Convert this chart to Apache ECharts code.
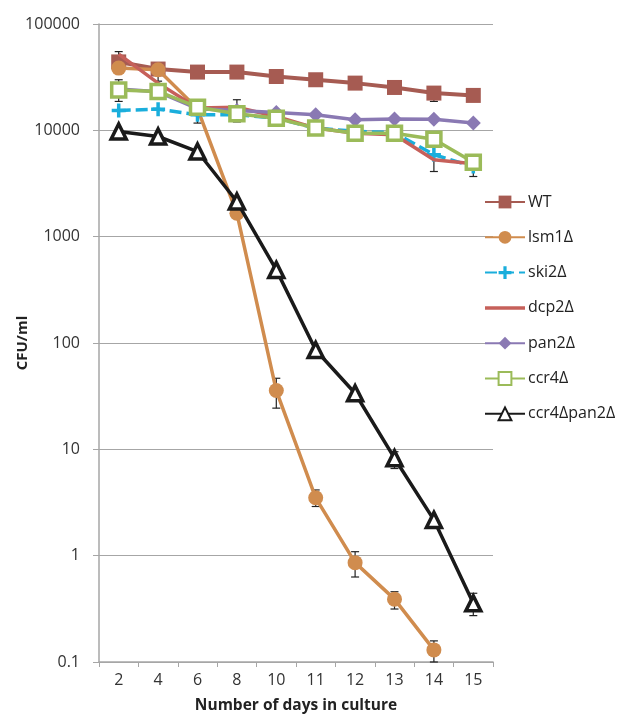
<!DOCTYPE html>
<html>
<head>
<meta charset="utf-8">
<script src="https://cdn.jsdelivr.net/npm/echarts@6/dist/echarts.min.js"></script>
<style>
html,body{margin:0;padding:0;background:#fff;}
#chart{width:619px;height:714px;}
</style>
</head>
<body>
<div id="chart"></div>
<script>
var days = ['2','4','6','8','10','11','12','13','14','15'];
var yTickLabels = ['0.1','1','10','100','1000','10000','100000'];

var WT       = [44000, 37700, 35300, 35300, 32100, 29900, 27800, 25300, 22400, 21300];
var lsm1     = [38500, 37100, 16000, 1660, 35.7, 3.5, 0.86, 0.39, 0.13, null];
var ski2     = [15400, 15800, 14000, 14000, 13000, 10500, 9800, 9500, 5900, 4570];
var dcp2     = [52000, 27800, 16200, 16500, 13500, 10500, 9400, 9100, 5280, 4840];
var pan2     = [24500, 23000, 16000, 15400, 14700, 14000, 12600, 12800, 12700, 11700];
var ccr4     = [24000, 23200, 16500, 14300, 13000, 10500, 9400, 9400, 8260, 5020];
var ccr4pan2 = [9750, 8750, 6320, 2140, 487, 86, 33.7, 8.25, 2.17, 0.356];

// error bars: [category index, low, high]
var errorBars = [
  [0, 40000, 55000],
  [0, 18700, 29900],
  [1, 29000, 40000],
  [2, 11700, 16000],
  [3, 12000, 19400],
  [8, 18700, 22400],
  [8, 4100, 5900],
  [9, 3680, 4570],
  [4, 24.4, 46.6],
  [5, 2.9, 4.15],
  [6, 0.63, 1.09],
  [7, 0.315, 0.458],
  [8, 0.1, 0.158],
  [9, 0.273, 0.443],
  [7, 6.6, 9.5]
];

var plusPath = 'path://M3.75,0H6.25V3.75H10V6.25H6.25V10H3.75V6.25H0V3.75H3.75Z';
var FONT = 'Open Sans';

var chart = echarts.init(document.getElementById('chart'));

function lineSeries(name, data, color, opts) {
  return {
    name: name,
    type: 'line',
    data: data,
    symbol: opts.symbol,
    symbolSize: opts.size || 13,
    showSymbol: opts.symbol !== 'none',
    lineStyle: { color: color, width: opts.width || 3.5, type: opts.dash || 'solid' },
    itemStyle: opts.itemStyle || { color: color },
    emphasis: { disabled: true },
    animation: false,
    z: opts.z || 3
  };
}

var option = {
  backgroundColor: '#ffffff',
  animation: false,
  grid: { left: 99, right: 126, top: 24, bottom: 52, containLabel: false, outerBoundsMode: 'none' },
  legend: {
    orient: 'vertical',
    left: 479,
    top: 189,
    itemWidth: 40,
    itemHeight: 16,
    itemGap: 19.3,
    textStyle: { fontFamily: FONT, fontSize: 16, lineHeight: 16, color: '#222', padding: [0,0,0,-2] },
    data: ['WT','lsm1Δ','ski2Δ',
      { name: 'dcp2Δ', icon: 'path://M0,0M40,16M0,6.25H40V9.75H0Z' },
      'pan2Δ','ccr4Δ','ccr4Δpan2Δ']
  },
  xAxis: {
    type: 'category',
    data: days,
    boundaryGap: true,
    axisLine: { lineStyle: { color: '#a6a6a6', width: 1.5 } },
    axisTick: { show: true, alignWithLabel: false, length: 5, lineStyle: { color: '#a6a6a6' } },
    axisLabel: { fontFamily: FONT, fontSize: 16, color: '#333', margin: 10 },
    name: 'Number of days in culture',
    nameLocation: 'middle',
    nameGap: 36,
    nameMoveOverlap: false,
    nameTextStyle: { fontFamily: FONT, fontSize: 15.5, fontWeight: 'bold', color: '#222' }
  },
  yAxis: {
    type: 'log',
    logBase: 10,
    min: 0.1,
    max: 100000,
    axisLine: { show: true, lineStyle: { color: '#a6a6a6', width: 1.5 } },
    axisTick: { show: true, length: 6, lineStyle: { color: '#a6a6a6' } },
    splitLine: { show: true, lineStyle: { color: '#a6a6a6', width: 1.2 } },
    axisLabel: {
      fontFamily: FONT, fontSize: 16, color: '#333', margin: 19,
      formatter: function (v) { return yTickLabels[Math.round(Math.log10(v)) + 1]; }
    },
    name: 'CFU/ml',
    nameLocation: 'middle',
    nameRotate: 90,
    nameGap: 69,
    nameMoveOverlap: false,
    nameTextStyle: { fontFamily: FONT, fontSize: 15, fontWeight: 'bold', color: '#222' }
  },
  series: [
    {
      name: 'errors',
      type: 'custom',
      data: errorBars,
      z: 2,
      silent: true,
      animation: false,
      encode: { x: 0, y: [1, 2] },
      renderItem: function (params, api) {
        var i = api.value(0);
        var lo = api.coord([i, api.value(1)]);
        var hi = api.coord([i, api.value(2)]);
        var w = 4;
        var st = { stroke: '#222', lineWidth: 1.2 };
        return {
          type: 'group',
          children: [
            { type: 'line', shape: { x1: lo[0], y1: lo[1], x2: hi[0], y2: hi[1] }, style: st },
            { type: 'line', shape: { x1: lo[0] - w, y1: lo[1], x2: lo[0] + w, y2: lo[1] }, style: st },
            { type: 'line', shape: { x1: hi[0] - w, y1: hi[1], x2: hi[0] + w, y2: hi[1] }, style: st }
          ]
        };
      }
    },
    lineSeries('WT', WT, '#A65B52', { symbol: 'rect', size: 15, width: 4, z: 3 }),
    lineSeries('lsm1Δ', lsm1, '#D08C4E', { symbol: 'circle', size: 15, z: 4 }),
    lineSeries('ski2Δ', ski2, '#1AAEDC', { symbol: plusPath, size: 14, dash: [12, 5], z: 5 }),
    lineSeries('dcp2Δ', dcp2, '#C6605A', { symbol: 'none', z: 6 }),
    lineSeries('pan2Δ', pan2, '#8A79B3', { symbol: 'diamond', size: 15, z: 7 }),
    lineSeries('ccr4Δ', ccr4, '#9BBB59', { symbol: 'rect', size: 14,
      itemStyle: { color: '#ffffff', borderColor: '#9BBB59', borderWidth: 3.5 }, z: 8 }),
    lineSeries('ccr4Δpan2Δ', ccr4pan2, '#1A1A1A', { symbol: 'triangle', size: 15,
      itemStyle: { color: '#ffffff', borderColor: '#1A1A1A', borderWidth: 3.5 }, z: 9 })
  ]
};
chart.setOption(option);
</script>
</body>
</html>
